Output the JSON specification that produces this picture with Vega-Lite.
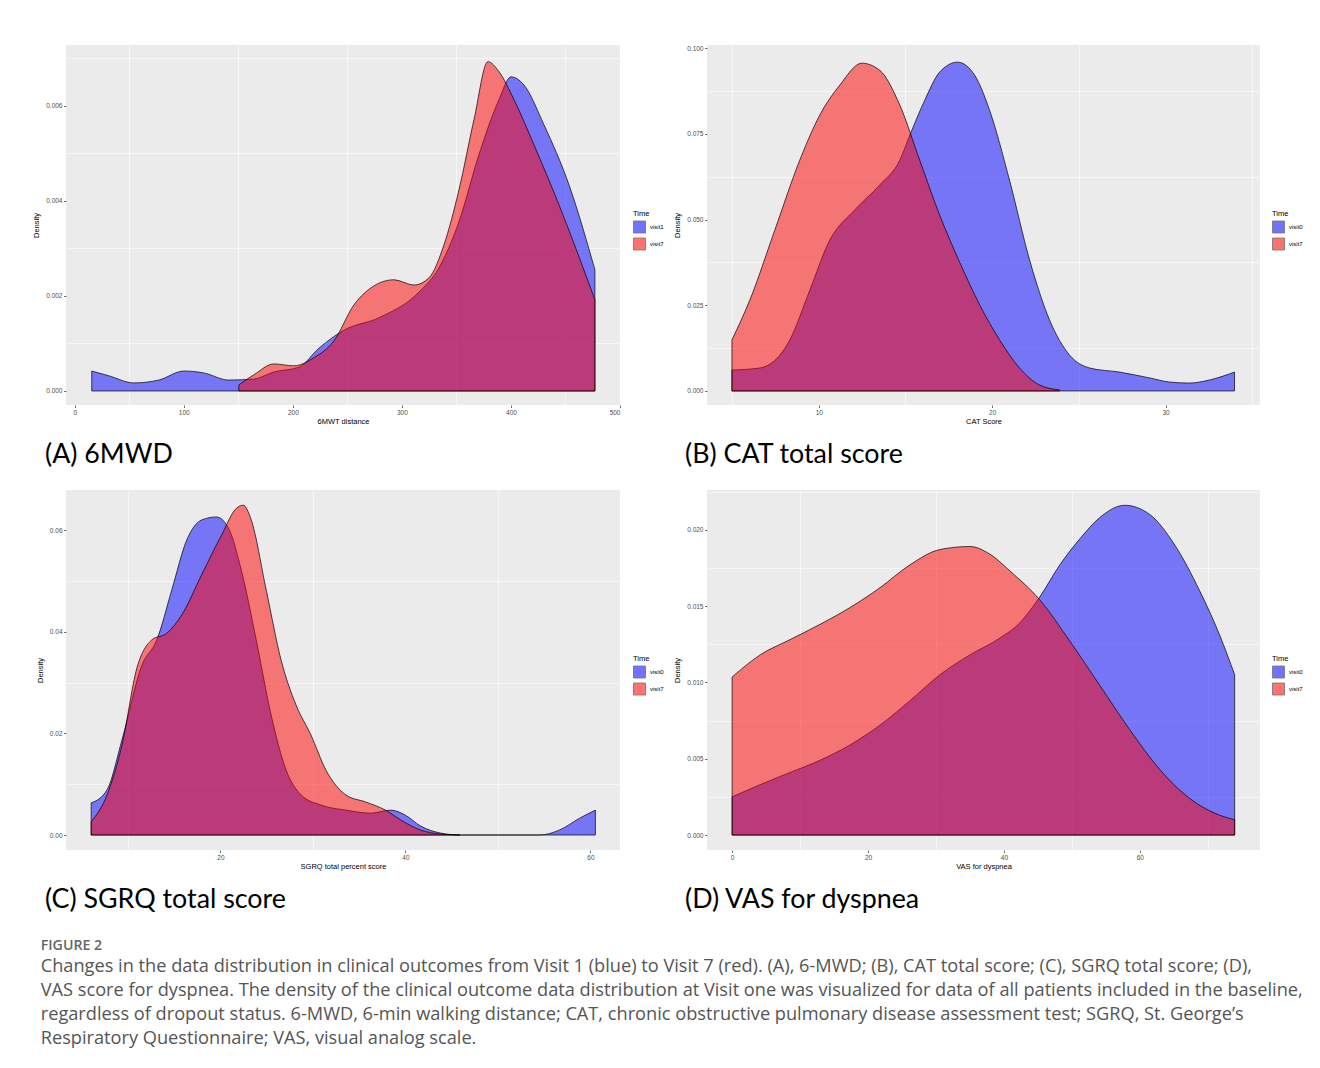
{
  "$schema": "https://vega.github.io/schema/vega-lite/v6.json",
  "padding": {"left": 32, "top": 45, "right": 5, "bottom": 5},
  "background": "white",
  "config": {
    "font": "Liberation Sans",
    "view": {"fill": "#EBEBEB", "stroke": null},
    "axis": {"domain": false, "gridColor": "#FFFFFF", "gridWidth": 1.1, "tickColor": "#333333", "tickSize": 2.5, "tickWidth": 0.7, "labelFontSize": 6.5, "labelColor": "#4D4D4D", "labelPadding": 1.5, "titleFontSize": 7.5, "titleFontWeight": "normal", "titleColor": "#000000", "labelFont": "Liberation Sans", "titleFont": "Liberation Sans"},
    "axisX": {"titlePadding": 2},
    "axisY": {"titlePadding": 5},
    "legend": {"titleFontSize": 7.5, "titleFontWeight": "normal", "titleColor": "#000000", "labelFontSize": 6, "labelColor": "#000000", "symbolType": "square", "symbolSize": 144, "symbolStrokeColor": "#000000", "symbolStrokeWidth": 0.8, "symbolOpacity": 0.55, "rowPadding": 0, "titlePadding": 3, "labelOffset": 4, "padding": 0}
  },
  "datasets": {
    "A": [
      {"Time": "visit1", "x": 15.6, "d": 0.00042}, {"Time": "visit1", "x": 31.2, "d": 0.00032}, {"Time": "visit1", "x": 54.1, "d": 0.00017}, {"Time": "visit1", "x": 77.1, "d": 0.00023}, {"Time": "visit1", "x": 100, "d": 0.00042}, {"Time": "visit1", "x": 118.3, "d": 0.00038}, {"Time": "visit1", "x": 141.3, "d": 0.00023}, {"Time": "visit1", "x": 164.2, "d": 0.00025}, {"Time": "visit1", "x": 182.6, "d": 0.0004}, {"Time": "visit1", "x": 205.5, "d": 0.0005}, {"Time": "visit1", "x": 223.9, "d": 0.0009}, {"Time": "visit1", "x": 246.8, "d": 0.00128}, {"Time": "visit1", "x": 278.9, "d": 0.00154}, {"Time": "visit1", "x": 315.6, "d": 0.00208}, {"Time": "visit1", "x": 333.9, "d": 0.00259}, {"Time": "visit1", "x": 352.3, "d": 0.00356}, {"Time": "visit1", "x": 370.6, "d": 0.00497}, {"Time": "visit1", "x": 389, "d": 0.00613}, {"Time": "visit1", "x": 400, "d": 0.00661}, {"Time": "visit1", "x": 411.9, "d": 0.00644}, {"Time": "visit1", "x": 430.3, "d": 0.0056}, {"Time": "visit1", "x": 453.2, "d": 0.00434}, {"Time": "visit1", "x": 477, "d": 0.00255},
      {"Time": "visit7", "x": 150.5, "d": 0.00013}, {"Time": "visit7", "x": 164.2, "d": 0.00034}, {"Time": "visit7", "x": 182.6, "d": 0.00057}, {"Time": "visit7", "x": 200.9, "d": 0.00053}, {"Time": "visit7", "x": 219.3, "d": 0.0007}, {"Time": "visit7", "x": 237.6, "d": 0.00105}, {"Time": "visit7", "x": 256, "d": 0.00181}, {"Time": "visit7", "x": 274.3, "d": 0.00221}, {"Time": "visit7", "x": 292.7, "d": 0.00234}, {"Time": "visit7", "x": 311, "d": 0.00223}, {"Time": "visit7", "x": 324.8, "d": 0.00238}, {"Time": "visit7", "x": 338.5, "d": 0.00307}, {"Time": "visit7", "x": 352.3, "d": 0.00423}, {"Time": "visit7", "x": 366.1, "d": 0.00571}, {"Time": "visit7", "x": 378.9, "d": 0.00693}, {"Time": "visit7", "x": 389, "d": 0.00672}, {"Time": "visit7", "x": 402.8, "d": 0.00613}, {"Time": "visit7", "x": 421.1, "d": 0.00518}, {"Time": "visit7", "x": 444, "d": 0.00392}, {"Time": "visit7", "x": 477, "d": 0.00192}
    ],
    "B": [
      {"Time": "visit0", "x": 4.99, "d": 0.0061}, {"Time": "visit0", "x": 6.6, "d": 0.0067}, {"Time": "visit0", "x": 8.33, "d": 0.0149}, {"Time": "visit0", "x": 9.48, "d": 0.0294}, {"Time": "visit0", "x": 10.63, "d": 0.044}, {"Time": "visit0", "x": 12.07, "d": 0.0528}, {"Time": "visit0", "x": 13.52, "d": 0.0601}, {"Time": "visit0", "x": 14.67, "d": 0.0673}, {"Time": "visit0", "x": 15.25, "d": 0.0746}, {"Time": "visit0", "x": 16.11, "d": 0.0848}, {"Time": "visit0", "x": 16.97, "d": 0.093}, {"Time": "visit0", "x": 18.01, "d": 0.0959}, {"Time": "visit0", "x": 18.99, "d": 0.0921}, {"Time": "visit0", "x": 19.85, "d": 0.0819}, {"Time": "visit0", "x": 21.0, "d": 0.0615}, {"Time": "visit0", "x": 22.16, "d": 0.0382}, {"Time": "visit0", "x": 23.31, "d": 0.0207}, {"Time": "visit0", "x": 24.46, "d": 0.0105}, {"Time": "visit0", "x": 25.62, "d": 0.0067}, {"Time": "visit0", "x": 27.35, "d": 0.0055}, {"Time": "visit0", "x": 29.08, "d": 0.0038}, {"Time": "visit0", "x": 30.23, "d": 0.0026}, {"Time": "visit0", "x": 31.38, "d": 0.0023}, {"Time": "visit0", "x": 32.54, "d": 0.0032}, {"Time": "visit0", "x": 33.98, "d": 0.0055},
      {"Time": "visit7", "x": 4.99, "d": 0.0149}, {"Time": "visit7", "x": 6.02, "d": 0.0265}, {"Time": "visit7", "x": 7.46, "d": 0.0469}, {"Time": "visit7", "x": 8.9, "d": 0.0673}, {"Time": "visit7", "x": 10.06, "d": 0.0805}, {"Time": "visit7", "x": 11.21, "d": 0.0892}, {"Time": "visit7", "x": 12.48, "d": 0.0956}, {"Time": "visit7", "x": 13.52, "d": 0.0935}, {"Time": "visit7", "x": 14.67, "d": 0.0834}, {"Time": "visit7", "x": 15.82, "d": 0.0673}, {"Time": "visit7", "x": 16.97, "d": 0.0513}, {"Time": "visit7", "x": 18.12, "d": 0.0376}, {"Time": "visit7", "x": 19.28, "d": 0.0251}, {"Time": "visit7", "x": 20.43, "d": 0.0149}, {"Time": "visit7", "x": 21.58, "d": 0.0067}, {"Time": "visit7", "x": 22.74, "d": 0.0017}, {"Time": "visit7", "x": 23.89, "d": 0.0003}
    ],
    "C": [
      {"Time": "visit0", "x": 6.02, "d": 0.0063}, {"Time": "visit0", "x": 7.74, "d": 0.0089}, {"Time": "visit0", "x": 9.35, "d": 0.0187}, {"Time": "visit0", "x": 11.5, "d": 0.0334}, {"Time": "visit0", "x": 13.12, "d": 0.0384}, {"Time": "visit0", "x": 14.73, "d": 0.0482}, {"Time": "visit0", "x": 16.34, "d": 0.058}, {"Time": "visit0", "x": 17.96, "d": 0.062}, {"Time": "visit0", "x": 19.57, "d": 0.0626}, {"Time": "visit0", "x": 20.97, "d": 0.06}, {"Time": "visit0", "x": 22.26, "d": 0.0521}, {"Time": "visit0", "x": 23.87, "d": 0.0384}, {"Time": "visit0", "x": 25.48, "d": 0.0236}, {"Time": "visit0", "x": 27.1, "d": 0.0128}, {"Time": "visit0", "x": 28.71, "d": 0.0079}, {"Time": "visit0", "x": 30.86, "d": 0.0059}, {"Time": "visit0", "x": 33.55, "d": 0.0049}, {"Time": "visit0", "x": 36.24, "d": 0.0043}, {"Time": "visit0", "x": 38.39, "d": 0.0049}, {"Time": "visit0", "x": 40.0, "d": 0.0039}, {"Time": "visit0", "x": 41.61, "d": 0.0018}, {"Time": "visit0", "x": 43.76, "d": 0.0004}, {"Time": "visit0", "x": 45.91, "d": 0.0}, {"Time": "visit0", "x": 50.22, "d": 0.0}, {"Time": "visit0", "x": 54.52, "d": 0.0}, {"Time": "visit0", "x": 56.67, "d": 0.001}, {"Time": "visit0", "x": 58.82, "d": 0.0033}, {"Time": "visit0", "x": 60.54, "d": 0.0049},
      {"Time": "visit7", "x": 6.02, "d": 0.0026}, {"Time": "visit7", "x": 7.74, "d": 0.0079}, {"Time": "visit7", "x": 9.35, "d": 0.0177}, {"Time": "visit7", "x": 10.97, "d": 0.0329}, {"Time": "visit7", "x": 12.58, "d": 0.0384}, {"Time": "visit7", "x": 14.19, "d": 0.0397}, {"Time": "visit7", "x": 15.81, "d": 0.0433}, {"Time": "visit7", "x": 17.96, "d": 0.0512}, {"Time": "visit7", "x": 20.11, "d": 0.059}, {"Time": "visit7", "x": 21.72, "d": 0.0643}, {"Time": "visit7", "x": 22.47, "d": 0.0649}, {"Time": "visit7", "x": 23.33, "d": 0.062}, {"Time": "visit7", "x": 24.95, "d": 0.0482}, {"Time": "visit7", "x": 26.56, "d": 0.0344}, {"Time": "visit7", "x": 28.17, "d": 0.0256}, {"Time": "visit7", "x": 29.78, "d": 0.0197}, {"Time": "visit7", "x": 31.4, "d": 0.0128}, {"Time": "visit7", "x": 33.55, "d": 0.0079}, {"Time": "visit7", "x": 35.7, "d": 0.0065}, {"Time": "visit7", "x": 37.85, "d": 0.0049}, {"Time": "visit7", "x": 39.46, "d": 0.003}, {"Time": "visit7", "x": 41.61, "d": 0.001}, {"Time": "visit7", "x": 43.76, "d": 0.0002}, {"Time": "visit7", "x": 45.91, "d": 0.0}
    ],
    "D": [
      {"Time": "visit0", "x": 0, "d": 0.0025}, {"Time": "visit0", "x": 4.12, "d": 0.0033}, {"Time": "visit0", "x": 8.53, "d": 0.0041}, {"Time": "visit0", "x": 12.94, "d": 0.0049}, {"Time": "visit0", "x": 17.35, "d": 0.0059}, {"Time": "visit0", "x": 21.76, "d": 0.0072}, {"Time": "visit0", "x": 26.18, "d": 0.0088}, {"Time": "visit0", "x": 30.59, "d": 0.0105}, {"Time": "visit0", "x": 35.0, "d": 0.0118}, {"Time": "visit0", "x": 39.41, "d": 0.0129}, {"Time": "visit0", "x": 42.35, "d": 0.0139}, {"Time": "visit0", "x": 45.29, "d": 0.0156}, {"Time": "visit0", "x": 48.24, "d": 0.0177}, {"Time": "visit0", "x": 51.18, "d": 0.0194}, {"Time": "visit0", "x": 54.12, "d": 0.0208}, {"Time": "visit0", "x": 57.79, "d": 0.0216}, {"Time": "visit0", "x": 61.47, "d": 0.021}, {"Time": "visit0", "x": 65.15, "d": 0.019}, {"Time": "visit0", "x": 68.82, "d": 0.016}, {"Time": "visit0", "x": 71.76, "d": 0.0131}, {"Time": "visit0", "x": 73.97, "d": 0.0105},
      {"Time": "visit7", "x": 0, "d": 0.01035}, {"Time": "visit7", "x": 4.12, "d": 0.0118}, {"Time": "visit7", "x": 8.53, "d": 0.0128}, {"Time": "visit7", "x": 12.94, "d": 0.0138}, {"Time": "visit7", "x": 17.35, "d": 0.0149}, {"Time": "visit7", "x": 21.76, "d": 0.0162}, {"Time": "visit7", "x": 26.18, "d": 0.0177}, {"Time": "visit7", "x": 30.59, "d": 0.0187}, {"Time": "visit7", "x": 35.0, "d": 0.0189}, {"Time": "visit7", "x": 37.94, "d": 0.0184}, {"Time": "visit7", "x": 40.88, "d": 0.0173}, {"Time": "visit7", "x": 45.29, "d": 0.0154}, {"Time": "visit7", "x": 49.71, "d": 0.0127}, {"Time": "visit7", "x": 54.12, "d": 0.0098}, {"Time": "visit7", "x": 58.53, "d": 0.0069}, {"Time": "visit7", "x": 62.94, "d": 0.0043}, {"Time": "visit7", "x": 67.35, "d": 0.0024}, {"Time": "visit7", "x": 71.76, "d": 0.0013}, {"Time": "visit7", "x": 73.97, "d": 0.001}
    ]
  },
  "title": {
    "text": "FIGURE 2",
    "subtitle": [
      "Changes in the data distribution in clinical outcomes from Visit 1 (blue) to Visit 7 (red). (A), 6-MWD; (B), CAT total score; (C), SGRQ total score; (D),",
      "VAS score for dyspnea. The density of the clinical outcome data distribution at Visit one was visualized for data of all patients included in the baseline,",
      "regardless of dropout status. 6-MWD, 6-min walking distance; CAT, chronic obstructive pulmonary disease assessment test; SGRQ, St. George’s",
      "Respiratory Questionnaire; VAS, visual analog scale."
    ],
    "orient": "bottom", "anchor": "start", "frame": "bounds", "offset": 25, "dx": 8,
    "font": "Open Sans", "fontSize": 14.2, "fontWeight": 600, "color": "#666666",
    "subtitleFont": "Open Sans", "subtitleFontSize": 18.2, "subtitleColor": "#555555", "subtitleLineHeight": 24, "subtitlePadding": 5
  },
  "columns": 2,
  "spacing": {"row": 85, "column": 87},
  "bounds": "flush",
  "resolve": {"scale": {"x": "independent", "y": "independent", "color": "independent"}},
  "concat": [
    {
      "width": 554, "height": 360,
      "data": {"name": "A"},
      "title": {"text": "(A) 6MWD", "orient": "bottom", "anchor": "start", "frame": "group", "dx": -21, "offset": 17, "font": "Lato", "fontSize": 26.8, "fontWeight": "normal", "color": "#000000"},
      "layer": [
        {"mark": {"type": "point", "opacity": 0},
         "encoding": {
           "x": {"field": "x", "type": "quantitative", "scale": {"domain": [-8, 500], "nice": false, "zero": false}, "axis": {"orient": "top", "values": [50, 150, 250, 350, 450], "labels": false, "ticks": false, "title": null, "gridWidth": 0.55}},
           "y": {"field": "d", "type": "quantitative", "scale": {"domain": [-0.000295, 0.00728], "nice": false, "zero": false}, "axis": {"orient": "right", "values": [0.001, 0.003, 0.005, 0.007], "labels": false, "ticks": false, "title": null, "gridWidth": 0.55}}
         }},
        {"mark": {"type": "area", "interpolate": "monotone", "fillOpacity": 0.5, "stroke": "#000000", "strokeWidth": 0.7},
         "encoding": {
           "x": {"field": "x", "type": "quantitative", "axis": {"values": [0, 100, 200, 300, 400, 500], "title": "6MWT distance"}},
           "y": {"field": "d", "type": "quantitative", "axis": {"values": [0, 0.002, 0.004, 0.006], "format": ".3f", "title": "Density"}},
           "y2": {"datum": 0},
           "color": {"field": "Time", "type": "nominal", "scale": {"domain": ["visit1", "visit7"], "range": ["#0000FF", "#FF0000"]}, "legend": {"title": "Time", "orient": "none", "legendX": 567, "legendY": 165}}
         }}
      ],
      "resolve": {"axis": {"x": "independent", "y": "independent"}}
    },
    {
      "width": 553, "height": 360,
      "data": {"name": "B"},
      "title": {"text": "(B) CAT total score", "orient": "bottom", "anchor": "start", "frame": "group", "dx": -22, "offset": 17, "font": "Lato", "fontSize": 26.8, "fontWeight": "normal", "color": "#000000"},
      "layer": [
        {"mark": {"type": "point", "opacity": 0},
         "encoding": {
           "x": {"field": "x", "type": "quantitative", "scale": {"domain": [3.55, 35.45], "nice": false, "zero": false}, "axis": {"orient": "top", "values": [5, 15, 25, 35], "labels": false, "ticks": false, "title": null, "gridWidth": 0.55}},
           "y": {"field": "d", "type": "quantitative", "scale": {"domain": [-0.0041, 0.1009], "nice": false, "zero": false}, "axis": {"orient": "right", "values": [0.0125, 0.0375, 0.0625, 0.0875], "labels": false, "ticks": false, "title": null, "gridWidth": 0.55}}
         }},
        {"mark": {"type": "area", "interpolate": "monotone", "fillOpacity": 0.5, "stroke": "#000000", "strokeWidth": 0.7},
         "encoding": {
           "x": {"field": "x", "type": "quantitative", "axis": {"values": [10, 20, 30], "title": "CAT Score"}},
           "y": {"field": "d", "type": "quantitative", "axis": {"values": [0, 0.025, 0.05, 0.075, 0.1], "format": ".3f", "title": "Density"}},
           "y2": {"datum": 0},
           "color": {"field": "Time", "type": "nominal", "scale": {"domain": ["visit0", "visit7"], "range": ["#0000FF", "#FF0000"]}, "legend": {"title": "Time", "orient": "none", "legendX": 565, "legendY": 165}}
         }}
      ],
      "resolve": {"axis": {"x": "independent", "y": "independent"}}
    },
    {
      "width": 554, "height": 360,
      "data": {"name": "C"},
      "title": {"text": "(C) SGRQ total score", "orient": "bottom", "anchor": "start", "frame": "group", "dx": -21, "offset": 17, "font": "Lato", "fontSize": 26.8, "fontWeight": "normal", "color": "#000000"},
      "layer": [
        {"mark": {"type": "point", "opacity": 0},
         "encoding": {
           "x": {"field": "x", "type": "quantitative", "scale": {"domain": [3.3, 63.2], "nice": false, "zero": false}, "axis": {"orient": "top", "values": [10, 30, 50], "labels": false, "ticks": false, "title": null, "gridWidth": 0.55}},
           "y": {"field": "d", "type": "quantitative", "scale": {"domain": [-0.00295, 0.0679], "nice": false, "zero": false}, "axis": {"orient": "right", "values": [0.01, 0.03, 0.05], "labels": false, "ticks": false, "title": null, "gridWidth": 0.55}}
         }},
        {"mark": {"type": "area", "interpolate": "monotone", "fillOpacity": 0.5, "stroke": "#000000", "strokeWidth": 0.7},
         "encoding": {
           "x": {"field": "x", "type": "quantitative", "axis": {"values": [20, 40, 60], "title": "SGRQ total percent score"}},
           "y": {"field": "d", "type": "quantitative", "axis": {"values": [0, 0.02, 0.04, 0.06], "format": ".2f", "title": "Density"}},
           "y2": {"datum": 0},
           "color": {"field": "Time", "type": "nominal", "scale": {"domain": ["visit0", "visit7"], "range": ["#0000FF", "#FF0000"]}, "legend": {"title": "Time", "orient": "none", "legendX": 567, "legendY": 165}}
         }}
      ],
      "resolve": {"axis": {"x": "independent", "y": "independent"}}
    },
    {
      "width": 553, "height": 360,
      "data": {"name": "D"},
      "title": {"text": "(D) VAS for dyspnea", "orient": "bottom", "anchor": "start", "frame": "group", "dx": -22, "offset": 17, "font": "Lato", "fontSize": 26.8, "fontWeight": "normal", "color": "#000000"},
      "layer": [
        {"mark": {"type": "point", "opacity": 0},
         "encoding": {
           "x": {"field": "x", "type": "quantitative", "scale": {"domain": [-3.7, 77.7], "nice": false, "zero": false}, "axis": {"orient": "top", "values": [10, 30, 50, 70], "labels": false, "ticks": false, "title": null, "gridWidth": 0.55}},
           "y": {"field": "d", "type": "quantitative", "scale": {"domain": [-0.00098, 0.0226], "nice": false, "zero": false}, "axis": {"orient": "right", "values": [0.0025, 0.0075, 0.0125, 0.0175, 0.0225], "labels": false, "ticks": false, "title": null, "gridWidth": 0.55}}
         }},
        {"mark": {"type": "area", "interpolate": "monotone", "fillOpacity": 0.5, "stroke": "#000000", "strokeWidth": 0.7},
         "encoding": {
           "x": {"field": "x", "type": "quantitative", "axis": {"values": [0, 20, 40, 60], "title": "VAS for dyspnea"}},
           "y": {"field": "d", "type": "quantitative", "axis": {"values": [0, 0.005, 0.01, 0.015, 0.02], "format": ".3f", "title": "Density"}},
           "y2": {"datum": 0},
           "color": {"field": "Time", "type": "nominal", "scale": {"domain": ["visit0", "visit7"], "range": ["#0000FF", "#FF0000"]}, "legend": {"title": "Time", "orient": "none", "legendX": 565, "legendY": 165}}
         }}
      ],
      "resolve": {"axis": {"x": "independent", "y": "independent"}}
    }
  ]
}
